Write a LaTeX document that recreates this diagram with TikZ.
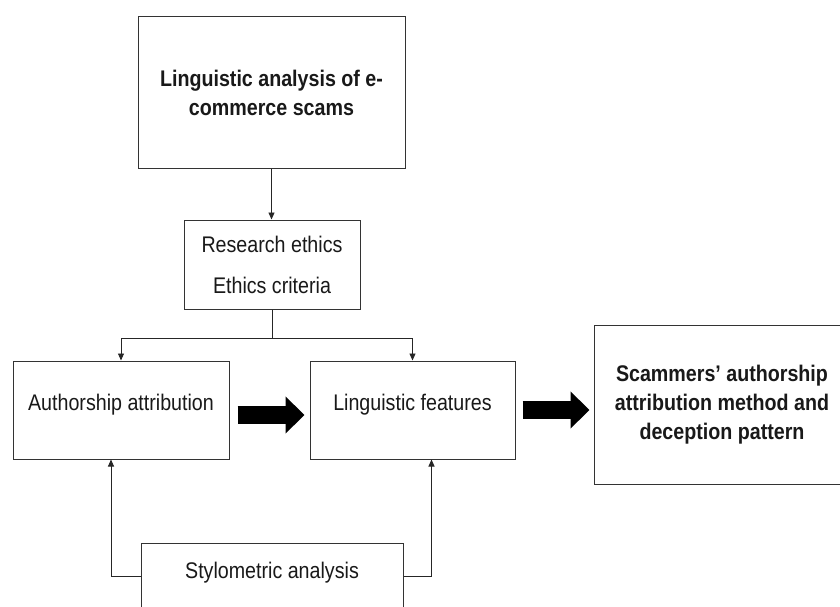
\documentclass[tikz,border=0pt]{standalone}
\usepackage{fontspec}
\setmainfont{Liberation Sans}[FakeStretch=0.87]
\usepackage{tikz}
\usetikzlibrary{shapes,arrows,arrows.meta}

\begin{document}
\begin{tikzpicture}[x=1pt,y=-1pt]
	\tikzstyle{Box}		= [rectangle, draw=black!80, line width=1pt, fill=white, inner sep=0pt, align=center, text=black!90, font=\fontsize{22.6}{27}\selectfont]
	\tikzstyle{Bold}	= [font=\fontsize{22.6}{29}\selectfont\bfseries]
	\tikzstyle{Plain}	= [line width=0.9pt, black!85]
	\tikzstyle{Thin}	= [Plain, -{Triangle[length=7pt,width=6pt]}]
	\tikzstyle{Fat}		= [line width=18pt, black, -{Triangle[length=19pt,width=36pt]}]

	\useasboundingbox (0,0) rectangle (840,607);

	\node (top) at (271.5,92.5) [Box, Bold, minimum width=267pt, minimum height=151pt] {Linguistic analysis of e-\\commerce scams};
	\node (research) at (272,264.5) [Box, minimum width=176pt, minimum height=89pt] {Research ethics\\[14pt]Ethics criteria};
	\node (auth) at (121,410) [Box, minimum width=216pt, minimum height=98pt, text depth=15pt] {Authorship attribution};
	\node (ling) at (412.5,410) [Box, minimum width=205pt, minimum height=98pt, text depth=15pt] {Linguistic features};
	\node (scam) at (722,404.5) [Box, Bold, minimum width=256pt, minimum height=159pt] {Scammers’ authorship\\attribution method and\\deception pattern};
	\node (stylo) at (272,593) [Box, minimum width=262pt, minimum height=100pt, text depth=45pt] {Stylometric analysis};

	\draw [Thin] (top.south) to (top.south |- research.north);
	\draw [Plain] (research.south) -- ++(0,29) coordinate (split);
	\draw [Thin] (split) -| (auth.north);
	\draw [Thin] (split) -| (ling.north);

	\draw [Thin] ([yshift=17pt]stylo.west) -| ([xshift=-10pt]auth.south);
	\draw [Thin] ([yshift=17pt]stylo.east) -| ([xshift=19pt]ling.south);

	\draw [Fat, shorten <=8pt, shorten >=5pt] ([yshift=-5pt]auth.east) to ([yshift=-5pt]ling.west);
	\draw [Fat, shorten <=7pt, shorten >=4pt] (ling.east) to (ling.east -| scam.west);

\end{tikzpicture}
\end{document}
